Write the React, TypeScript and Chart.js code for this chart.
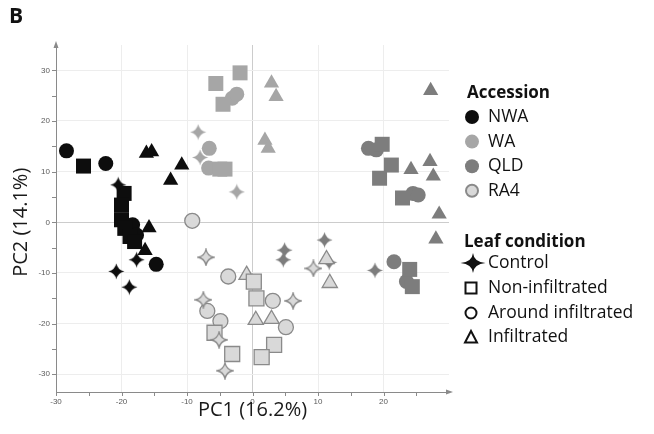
import React, { useEffect, useRef } from 'react';
import { Chart, registerables } from 'chart.js';

Chart.register(...registerables);

type P = { x: number; y: number };
const pt = (x: number, y: number): P => ({ x, y });

// NWA
const nwaControl: P[] = [pt(-20.5, 7.4), pt(-17.7, -7.4), pt(-20.8, -9.7), pt(-18.8, -12.8)];
const nwaNonInf: P[] = [pt(-25.8, 11.1), pt(-19.6, 5.7), pt(-20.0, 3.4), pt(-20.0, 0.5), pt(-19.5, -1.2), pt(-18.7, -2.8), pt(-18.0, -3.8)];
const nwaAround: P[] = [pt(-28.4, 14.1), pt(-22.4, 11.6), pt(-14.7, -8.3), pt(-18.3, -0.5), pt(-17.7, -2.5)];
const nwaInf: P[] = [pt(-16.2, 13.6), pt(-15.4, 13.9), pt(-10.8, 11.3), pt(-12.5, 8.3), pt(-15.8, -1.1), pt(-16.4, -5.6)];
// WA
const waControl: P[] = [pt(-8.3, 17.8), pt(-8.0, 12.8), pt(-2.4, 6.0)];
const waNonInf: P[] = [pt(-1.9, 29.5), pt(-5.6, 27.4), pt(-4.5, 23.3), pt(-5.0, 10.5), pt(-4.2, 10.5)];
const waAround: P[] = [pt(-3.1, 24.5), pt(-2.4, 25.3), pt(-6.6, 14.6), pt(-6.7, 10.7)];
const waInf: P[] = [pt(2.9, 27.5), pt(3.6, 24.8), pt(1.9, 16.2), pt(2.4, 14.6)];
// QLD
const qldControl: P[] = [pt(11.0, -3.5), pt(4.9, -5.5), pt(4.7, -7.4), pt(11.7, -7.9), pt(18.7, -9.5)];
const qldNonInf: P[] = [pt(19.8, 15.4), pt(21.2, 11.3), pt(19.4, 8.7), pt(22.9, 4.8), pt(24.0, -9.3), pt(24.4, -12.7)];
const qldAround: P[] = [pt(17.7, 14.6), pt(18.9, 14.3), pt(24.5, 5.7), pt(25.3, 5.4), pt(21.6, -7.8), pt(23.5, -11.7)];
const qldInf: P[] = [pt(27.2, 26.0), pt(24.2, 10.4), pt(27.1, 12.0), pt(27.6, 9.1), pt(28.5, 1.6), pt(28.0, -3.3)];
// RA4
const ra4Control: P[] = [pt(-7.1, -6.9), pt(6.2, -15.5), pt(-7.5, -15.3), pt(-5.1, -23.2), pt(-4.2, -29.3), pt(9.3, -9.1)];
const ra4NonInf: P[] = [pt(0.2, -11.7), pt(0.6, -15.0), pt(-5.8, -21.8), pt(-3.1, -26.0), pt(3.3, -24.2), pt(1.4, -26.6)];
const ra4Around: P[] = [pt(-9.2, 0.3), pt(-3.7, -10.7), pt(3.1, -15.5), pt(-6.9, -17.5), pt(-4.9, -19.5), pt(5.1, -20.7)];
const ra4Inf: P[] = [pt(-0.9, -10.4), pt(0.5, -19.3), pt(2.9, -19.1), pt(11.3, -7.3), pt(11.8, -12.0)];

const xTickValues = [-30, -20, -10, 0, 10, 20];
const yTickValues = [30, 20, 10, 0, -10, -20, -30];
const accessionLabels = ['NWA', 'WA', 'QLD', 'RA4'];
const conditionLabels = ['Control', 'Non-infiltrated', 'Around infiltrated', 'Infiltrated'];
const xTitle = 'PC1 (16.2%)';
const yTitle = 'PC2 (14.1%)';
const panelLabel = 'B';

const C_NWA = '#0d0d0d';
const C_WA = '#a6a6a6';
const C_QLD = '#7d7d7d';
const C_RA4 = '#d9d9d9';
const C_RA4_BORDER = '#8a8a8a';

function starPath(ctx: CanvasRenderingContext2D, cx: number, cy: number, rx: number, ry: number, k: number) {
  ctx.beginPath();
  ctx.moveTo(cx, cy - ry);
  ctx.quadraticCurveTo(cx + rx * k, cy - ry * k, cx + rx, cy);
  ctx.quadraticCurveTo(cx + rx * k, cy + ry * k, cx, cy + ry);
  ctx.quadraticCurveTo(cx - rx * k, cy + ry * k, cx - rx, cy);
  ctx.quadraticCurveTo(cx - rx * k, cy - ry * k, cx, cy - ry);
  ctx.closePath();
}

function makeStar(size: number, fill: string, stroke: string | null, lw: number) {
  const c = document.createElement('canvas');
  c.width = size;
  c.height = size;
  const ctx = c.getContext('2d')!;
  const r = size / 2 - (stroke ? lw / 2 + 0.5 : 0.5);
  starPath(ctx, size / 2, size / 2, r, r, 0.18);
  ctx.fillStyle = fill;
  ctx.fill();
  if (stroke) {
    ctx.strokeStyle = stroke;
    ctx.lineWidth = lw;
    ctx.stroke();
  }
  return c;
}

const decorPlugin = {
  id: 'decor',
  afterDraw(chart: any) {
    const ctx: CanvasRenderingContext2D = chart.ctx;
    const xs = chart.scales.x;
    const ys = chart.scales.y;
    const ca = chart.chartArea;
    ctx.save();
    // minor ticks
    ctx.strokeStyle = '#8a8a8a';
    ctx.lineWidth = 1;
    ctx.beginPath();
    for (let v = -30; v <= 25; v += 5) {
      const px = Math.round(xs.getPixelForValue(v)) + 0.5;
      ctx.moveTo(px, ca.bottom);
      ctx.lineTo(px, ca.bottom + 4);
    }
    for (let v = -30; v <= 30; v += 5) {
      const py = Math.round(ys.getPixelForValue(v)) + 0.5;
      ctx.moveTo(ca.left, py);
      ctx.lineTo(ca.left - 4, py);
    }
    ctx.stroke();
    // arrows
    ctx.fillStyle = '#8a8a8a';
    ctx.beginPath();
    ctx.moveTo(ca.left, ca.top - 4);
    ctx.lineTo(ca.left - 2.5, ca.top + 3);
    ctx.lineTo(ca.left + 2.5, ca.top + 3);
    ctx.closePath();
    ctx.fill();
    ctx.beginPath();
    ctx.moveTo(ca.right + 4, ca.bottom);
    ctx.lineTo(ca.right - 3, ca.bottom - 2.5);
    ctx.lineTo(ca.right - 3, ca.bottom + 2.5);
    ctx.closePath();
    ctx.fill();
    // tick labels
    ctx.fillStyle = '#5a5a5a';
    ctx.font = '8px "Liberation Sans"';
    ctx.textAlign = 'center';
    ctx.textBaseline = 'middle';
    xTickValues.forEach((v) => {
      ctx.fillText(String(v), xs.getPixelForValue(v), ca.bottom + 10);
    });
    ctx.textAlign = 'right';
    yTickValues.forEach((v) => {
      ctx.fillText(String(v), ca.left - 6, ys.getPixelForValue(v));
    });
    // axis titles
    ctx.fillStyle = '#1a1a1a';
    ctx.font = '20px "Open Sans"';
    ctx.textAlign = 'center';
    ctx.textBaseline = 'middle';
    ctx.fillText(xTitle, xs.getPixelForValue(0), 410);
    ctx.save();
    ctx.translate(21, ys.getPixelForValue(0));
    ctx.rotate(-Math.PI / 2);
    ctx.fillText(yTitle, 0, 0);
    ctx.restore();
    // panel label
    ctx.font = 'bold 21px "Open Sans"';
    ctx.textAlign = 'left';
    ctx.textBaseline = 'alphabetic';
    ctx.fillStyle = '#111';
    ctx.fillText(panelLabel, 9, 23);
    // legend
    ctx.textBaseline = 'middle';
    ctx.font = 'bold 17px "Open Sans"';
    ctx.fillText('Accession', 467, 93);
    const accFill = [C_NWA, C_WA, C_QLD, C_RA4];
    accessionLabels.forEach((lab, i) => {
      const y = 117 + i * 24.6;
      ctx.beginPath();
      ctx.arc(472, y, i === 3 ? 6 : 7, 0, Math.PI * 2);
      ctx.fillStyle = accFill[i];
      ctx.fill();
      if (i === 3) {
        ctx.strokeStyle = C_RA4_BORDER;
        ctx.lineWidth = 2;
        ctx.stroke();
      }
      ctx.fillStyle = '#111';
      ctx.font = '17.5px "Open Sans"';
      ctx.fillText(lab, 488, y);
    });
    ctx.font = 'bold 17px "Open Sans"';
    ctx.fillText('Leaf condition', 464, 242);
    const condY = [263, 288, 313, 337];
    conditionLabels.forEach((lab, i) => {
      const y = condY[i];
      ctx.strokeStyle = '#111';
      ctx.fillStyle = '#111';
      ctx.lineWidth = 2;
      if (i === 0) {
        starPath(ctx, 473, y, 12.5, 10, 0.08);
        ctx.fill();
      } else if (i === 1) {
        ctx.strokeRect(465.5, y - 5.5, 11, 11);
      } else if (i === 2) {
        ctx.beginPath();
        ctx.arc(471, y, 5.5, 0, Math.PI * 2);
        ctx.stroke();
      } else {
        ctx.beginPath();
        ctx.moveTo(471, y - 6);
        ctx.lineTo(477, y + 5.5);
        ctx.lineTo(465, y + 5.5);
        ctx.closePath();
        ctx.stroke();
      }
      ctx.fillStyle = '#111';
      ctx.font = '17.5px "Open Sans"';
      ctx.fillText(lab, 488, y);
    });
    ctx.restore();
  },
};

export default function App() {
  const ref = useRef<HTMLCanvasElement | null>(null);
  useEffect(() => {
    if (!ref.current) return;
    const starNWA = makeStar(17, C_NWA, null, 0);
    const starWA = makeStar(17, C_WA, null, 0);
    const starQLD = makeStar(17, C_QLD, null, 0);
    const starRA4 = makeStar(18, C_RA4, C_RA4_BORDER, 1.3);

    const mk = (data: P[], style: any, fill: string, border: string, bw: number) => {
      let radius = 7.5;
      if (style === 'rect') radius = 10.6;
      if (style === 'triangle') radius = 8.8;
      return {
        data,
        pointStyle: style,
        pointRadius: radius,
        pointHoverRadius: radius,
        backgroundColor: fill,
        borderColor: border,
        borderWidth: bw,
        showLine: false,
      };
    };

    const datasets = [
      mk(ra4Control, starRA4, C_RA4, C_RA4_BORDER, 1.3),
      mk(ra4NonInf, 'rect', C_RA4, C_RA4_BORDER, 1.3),
      mk(ra4Around, 'circle', C_RA4, C_RA4_BORDER, 1.3),
      mk(ra4Inf, 'triangle', C_RA4, C_RA4_BORDER, 1.3),
      mk(waControl, starWA, C_WA, C_WA, 0),
      mk(waNonInf, 'rect', C_WA, C_WA, 0),
      mk(waAround, 'circle', C_WA, C_WA, 0),
      mk(waInf, 'triangle', C_WA, C_WA, 0),
      mk(qldControl, starQLD, C_QLD, C_QLD, 0),
      mk(qldNonInf, 'rect', C_QLD, C_QLD, 0),
      mk(qldAround, 'circle', C_QLD, C_QLD, 0),
      mk(qldInf, 'triangle', C_QLD, C_QLD, 0),
      mk(nwaControl, starNWA, C_NWA, C_NWA, 0),
      mk(nwaNonInf, 'rect', C_NWA, C_NWA, 0),
      mk(nwaAround, 'circle', C_NWA, C_NWA, 0),
      mk(nwaInf, 'triangle', C_NWA, C_NWA, 0),
    ];

    const chart = new Chart(ref.current, {
      type: 'scatter',
      data: { datasets: datasets as any },
      options: {
        responsive: false,
        animation: false,
        events: [],
        layout: { padding: { left: 56, right: 205, top: 45, bottom: 42 } },
        plugins: { legend: { display: false }, tooltip: { enabled: false } },
        scales: {
          x: {
            type: 'linear',
            min: -30,
            max: 30,
            ticks: { display: false, stepSize: 10, includeBounds: false },
            grid: {
              drawTicks: false,
              color: (c: any) => {
                const v = c.tick ? c.tick.value : null;
                if (v === 0) return '#cccccc';
                if (v === 30 || v === -30) return 'rgba(0,0,0,0)';
                return '#ededed';
              },
            },
            border: { display: true, color: '#8a8a8a', width: 1 },
            afterFit: (s: any) => {
              s.height = 0;
            },
          },
          y: {
            type: 'linear',
            min: -33.5,
            max: 35,
            ticks: { display: false, stepSize: 10, includeBounds: false },
            grid: {
              drawTicks: false,
              color: (c: any) => {
                const v = c.tick ? c.tick.value : null;
                if (v === 0) return '#cccccc';
                return '#ededed';
              },
            },
            border: { display: true, color: '#8a8a8a', width: 1 },
            afterFit: (s: any) => {
              s.width = 0;
            },
          },
        },
      },
      plugins: [decorPlugin],
    });
    return () => chart.destroy();
  }, []);

  return (
    <div style={{ position: 'fixed', left: 0, top: 0, width: 654, height: 434, background: '#fff' }}>
      <canvas ref={ref} width={654} height={434} style={{ width: 654, height: 434, display: 'block' }} />
    </div>
  );
}
